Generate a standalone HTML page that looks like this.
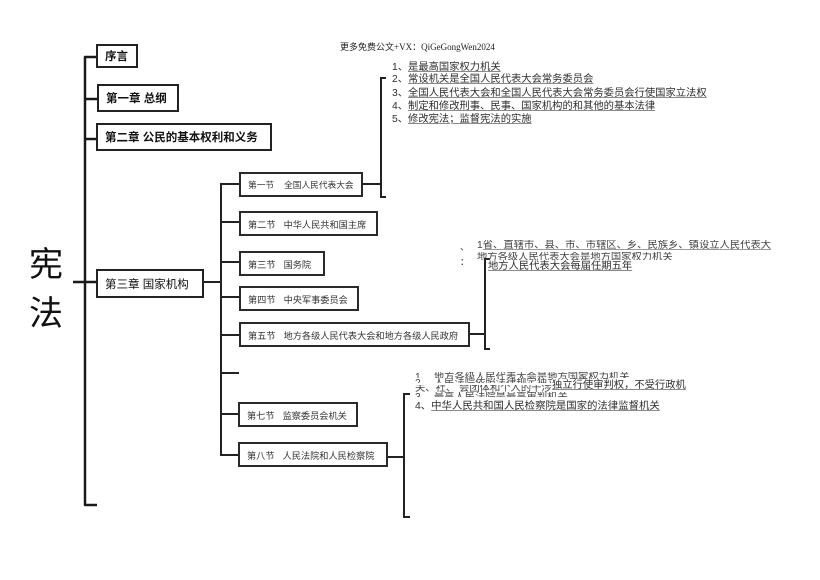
<!DOCTYPE html>
<html><head><meta charset="utf-8">
<style>
body{margin:0;width:820px;height:580px;background:#fff;position:relative;overflow:hidden;font-family:"Liberation Sans","Noto Sans CJK SC",sans-serif;}
.b{position:absolute;border:2px solid #222;box-sizing:border-box;display:flex;align-items:center;color:#111;white-space:nowrap;background:#fff}
.c{font-size:11.5px;font-weight:bold;padding-left:7px}
.s{font-size:9.2px;padding-left:7px;color:#333;border-color:#2a2a2a}
.s span{margin-right:8px}
.t{position:absolute;white-space:nowrap;font-size:10.3px;color:#2e2e2e;line-height:13px}
.t u{text-decoration:underline;text-decoration-color:#8a8a8a;text-underline-offset:1px}
.clip{position:absolute;overflow:hidden;white-space:nowrap;font-size:10.3px;color:#444;line-height:12px}
</style></head><body>
<svg width="820" height="580" style="position:absolute;left:0;top:0">
<g fill="none" stroke="#1a1a1a" stroke-width="2.5" stroke-linejoin="round">
<path d="M97,57H85V505H97"/>
<path d="M85,99H97"/>
<path d="M85,139H96"/>
<path d="M73,282H96"/>
</g>
<g fill="none" stroke="#222" stroke-width="2">
<path d="M203,282H221"/>
<path d="M239,184H221V455H238"/>
<path d="M221,222H239"/>
<path d="M221,262H239"/>
<path d="M221,297H239"/>
<path d="M221,335H239"/>
<path d="M221,373H239"/>
<path d="M221,414H238"/>
<path d="M362,184H381"/>
<path d="M386,78H381V197H386"/>
<path d="M469,334H485"/>
<path d="M490,259H485V349H490"/>
<path d="M387,457H404"/>
<path d="M410,394H404V517H410"/>
</g>
</svg>

<div style="position:absolute;left:29px;top:248px;font-size:34px;line-height:34px;color:#111;">宪</div>
<div style="position:absolute;left:29px;top:297px;font-size:34px;line-height:34px;color:#111;">法</div>

<div class="b c" style="left:96px;top:44px;width:42px;height:24px;">序言</div>
<div class="b c" style="left:97px;top:84px;width:82px;height:28px;">第一章&nbsp;总纲</div>
<div class="b c" style="left:96px;top:123px;width:176px;height:28px;">第二章&nbsp;公民的基本权利和义务</div>
<div class="b c" style="left:96px;top:269px;width:108px;height:29px;font-weight:normal;font-size:11.5px;">第三章&nbsp;国家机构</div>

<div class="b s" style="left:239px;top:172px;width:124px;height:25px;font-size:8.7px;"><span style="margin-right:10px">第一节</span>全国人民代表大会</div>
<div class="b s" style="left:239px;top:211px;width:139px;height:25px;"><span>第二节</span>中华人民共和国主席</div>
<div class="b s" style="left:239px;top:251px;width:86px;height:25px;"><span>第三节</span>国务院</div>
<div class="b s" style="left:239px;top:286px;width:120px;height:25px;"><span>第四节</span>中央军事委员会</div>
<div class="b s" style="left:239px;top:322px;width:231px;height:25px;font-size:9.2px;"><span>第五节</span>地方各级人民代表大会和地方各级人民政府</div>
<div class="b s" style="left:238px;top:402px;width:120px;height:25px;"><span>第七节</span>监察委员会机关</div>
<div class="b s" style="left:238px;top:442px;width:150px;height:25px;"><span>第八节</span>人民法院和人民检察院</div>

<div style="position:absolute;left:340px;top:41px;font-size:9px;line-height:12px;color:#222;font-family:'Liberation Serif','Noto Sans CJK SC',serif;white-space:nowrap;">更多免费公文+VX：QiGeGongWen2024</div>

<div class="t" style="left:392px;top:61px;">1、<u>是最高国家权力机关</u></div>
<div class="t" style="left:392px;top:73px;">2、<u>常设机关是全国人民代表大会常务委员会</u></div>
<div class="t" style="left:392px;top:87px;">3、<u>全国人民代表大会和全国人民代表大会常务委员会行使国家立法权</u></div>
<div class="t" style="left:392px;top:100px;">4、<u>制定和修改刑事、民事、国家机构的和其他的基本法律</u></div>
<div class="t" style="left:392px;top:113px;">5、<u>修改宪法；监督宪法的实施</u></div>

<!-- section 5 notes -->
<div class="t" style="left:460px;top:241px;font-size:9px;">、</div>
<div class="t" style="left:460px;top:256px;font-size:9px;">：</div>
<div class="clip" style="left:477px;top:240px;height:13px;"><span>1<u style="text-decoration-color:#999">省、直辖市、县、市、市辖区、乡、民族乡、镇设立人民代表大</u></span></div>
<div class="clip" style="left:477px;top:252px;height:8px;"><u style="text-decoration-color:#999">地方各级人民代表大会是地方国家权力机关</u></div>
<div class="t" style="left:488px;top:260px;background:#fff;padding-right:1px;"><u>地方人民代表大会每届任期五年</u></div>

<!-- section 8 notes -->
<div class="clip" style="left:415px;top:372px;height:6px;">1、 地方各级人民代表大会是地方国家权力机关</div>
<div class="clip" style="left:415px;top:378px;height:5px;">2、 人民法院依照法律规定独立行使审判权</div>
<div class="clip" style="left:415px;top:385px;height:9px;"><span style="position:relative;top:-2px">关、社、 会团体和个人的干涉</span></div>
<div class="t" style="left:552px;top:379px;background:#fff;"><u>独立行使审判权，不受行政机</u></div>
<div class="clip" style="left:415px;top:392px;height:5px;">3、 最高人民法院是最高审判机关</div>
<div class="t" style="left:415px;top:400px;font-size:10.4px;background:#fff;">4、<u>中华人民共和国人民检察院是国家的法律监督机关</u></div>
</body></html>
